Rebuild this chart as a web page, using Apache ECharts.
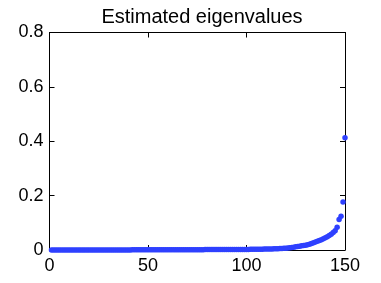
<!DOCTYPE html>
<html><head><meta charset="utf-8">
<script src="https://cdn.jsdelivr.net/npm/echarts@6/dist/echarts.min.js"></script>
<style>html,body{margin:0;padding:0;background:#fff}#c{width:381px;height:283px}</style>
</head><body><div id="c"></div>
<script>
const title = 'Estimated eigenvalues';
const xTicks = [0, 50, 100, 150];
const yTicks = [0, 0.2, 0.4, 0.6, 0.8];
const eigenvalues = [
0.0001,0.0001,0.0001,0.0001,0.0001,0.0001,0.0001,0.0001,0.0001,0.0001,
0.0001,0.0001,0.0001,0.0001,0.0002,0.0002,0.0002,0.0002,0.0002,0.0002,
0.0002,0.0002,0.0002,0.0002,0.0002,0.0003,0.0003,0.0003,0.0003,0.0003,
0.0003,0.0003,0.0003,0.0003,0.0004,0.0004,0.0004,0.0004,0.0004,0.0004,
0.0004,0.0005,0.0005,0.0005,0.0005,0.0005,0.0005,0.0006,0.0006,0.0006,
0.0006,0.0006,0.0007,0.0007,0.0007,0.0007,0.0007,0.0008,0.0008,0.0008,
0.0008,0.0009,0.0009,0.0009,0.0009,0.0010,0.0010,0.0010,0.0011,0.0011,
0.0011,0.0011,0.0012,0.0012,0.0012,0.0013,0.0013,0.0013,0.0014,0.0014,
0.0014,0.0015,0.0015,0.0015,0.0016,0.0016,0.0016,0.0017,0.0017,0.0017,
0.0018,0.0018,0.0018,0.0019,0.0019,0.0019,0.0020,0.0020,0.0020,0.0021,
0.0021,0.0023,0.0024,0.0026,0.0027,0.0029,0.0030,0.0032,0.0033,0.0035,
0.0037,0.0039,0.0041,0.0044,0.0047,0.0050,0.0054,0.0058,0.0063,0.0068,
0.0075,0.0085,0.0095,0.0105,0.0115,0.0127,0.0140,0.0153,0.0166,0.0178,
0.0190,0.0210,0.0235,0.0265,0.0295,0.0320,0.0345,0.0375,0.0410,0.0450,
0.0490,0.0530,0.0580,0.0640,0.0710,0.0840,0.1120,0.1240,0.1770,0.4130
];
const points = eigenvalues.map((v, i) => [i + 1, v]);
const font = 'Liberation Sans, Arial, sans-serif';
const chart = echarts.init(document.getElementById('c'), null, {renderer: 'canvas'});
const axisCommon = {
  axisLine: {show: true, onZero: false, lineStyle: {color: '#000', width: 1}},
  axisTick: {show: true, inside: true, length: 5, lineStyle: {color: '#000'}},
  splitLine: {show: false}
};
chart.setOption({
  animation: false,
  backgroundColor: '#fff',
  title: {text: title, left: 197, textAlign: 'center', top: 2,
    textStyle: {fontFamily: font, fontSize: 20, fontWeight: 'normal', color: '#000'}},
  grid: {left: 49.5, right: 36, top: 32.5, bottom: 33, containLabel: false},
  xAxis: [
    Object.assign({type: 'value', min: xTicks[0], max: xTicks[xTicks.length-1], interval: 50, position: 'bottom',
      axisLabel: {fontFamily: font, fontSize: 18, color: '#000', margin: 7}}, axisCommon),
    Object.assign({type: 'value', min: xTicks[0], max: xTicks[xTicks.length-1], interval: 50, position: 'top',
      axisLabel: {show: false}}, axisCommon)
  ],
  yAxis: [
    Object.assign({type: 'value', min: yTicks[0], max: yTicks[yTicks.length-1], interval: 0.2, position: 'left',
      axisLabel: {fontFamily: font, fontSize: 18, color: '#000', margin: 6, padding: [6, 0, 0, 0]}}, axisCommon),
    Object.assign({type: 'value', min: yTicks[0], max: yTicks[yTicks.length-1], interval: 0.2, position: 'right',
      axisLabel: {show: false}}, axisCommon)
  ],
  series: [{type: 'scatter', data: points, symbol: 'circle', symbolSize: 5.5,
    itemStyle: {color: '#2e40ff', opacity: 1}, xAxisIndex: 0, yAxisIndex: 0}]
});
</script></body></html>
